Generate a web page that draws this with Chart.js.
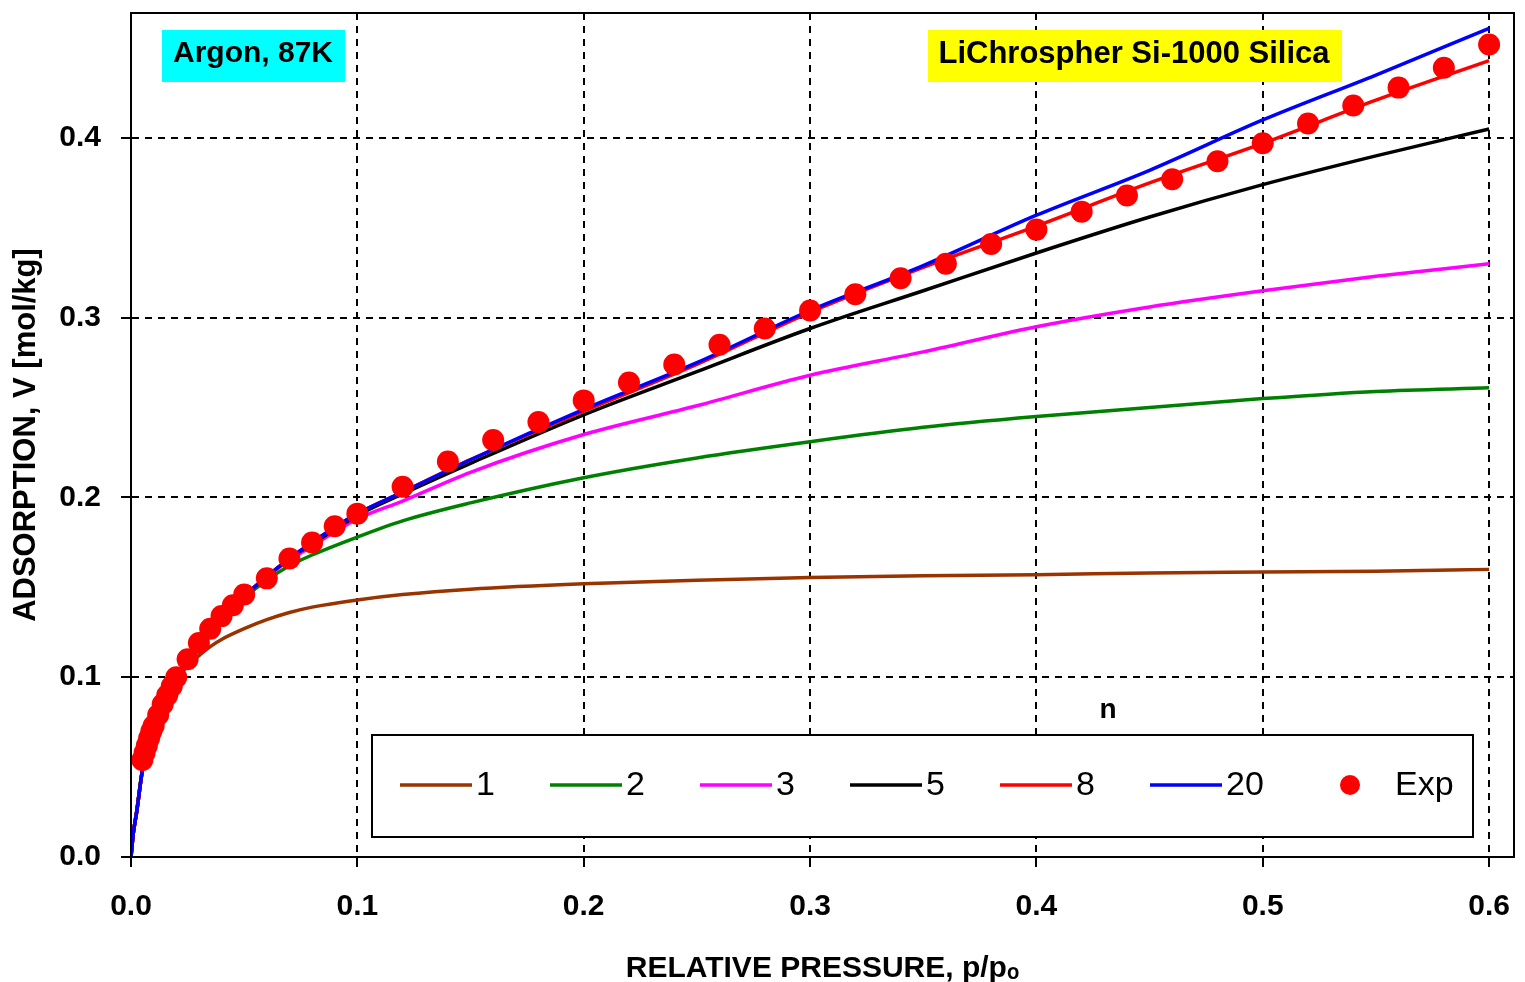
<!DOCTYPE html>
<html>
<head>
<meta charset="utf-8">
<script src="https://cdn.jsdelivr.net/npm/chart.js@4"></script>
<style>
  body { margin: 0; background: #fff; }
  #wrap { width: 1525px; height: 982px; }
</style>
</head>
<body>
<div id="wrap"><canvas id="chart" width="1525" height="982"></canvas></div>
<script>
// model curves share one x grid (relative pressure)
const curveX = [0, 0.001, 0.0025, 0.005, 0.0075, 0.01, 0.015, 0.02, 0.025, 0.03, 0.035, 0.04, 0.05, 0.06, 0.07, 0.08, 0.1, 0.12, 0.15, 0.2, 0.25, 0.3, 0.35, 0.4, 0.45, 0.5, 0.55, 0.6]
const n1  = [0, 0.013, 0.025, 0.048, 0.061, 0.072, 0.087, 0.099, 0.106, 0.112, 0.117, 0.121, 0.127, 0.132, 0.136, 0.139, 0.143, 0.146, 0.149, 0.152, 0.154, 0.1555, 0.1565, 0.157, 0.158, 0.1585, 0.159, 0.160]
const n2  = [0, 0.013, 0.025, 0.048, 0.061, 0.072, 0.087, 0.099, 0.108, 0.117, 0.125, 0.132, 0.144, 0.154, 0.162, 0.168, 0.178, 0.187, 0.197, 0.211, 0.222, 0.231, 0.239, 0.245, 0.250, 0.255, 0.259, 0.261]
const n3  = [0, 0.013, 0.025, 0.048, 0.061, 0.072, 0.087, 0.099, 0.108, 0.117, 0.125, 0.132, 0.145, 0.156, 0.165, 0.173, 0.188, 0.198, 0.214, 0.235, 0.251, 0.268, 0.281, 0.295, 0.306, 0.315, 0.323, 0.330]
const n5  = [0, 0.013, 0.025, 0.048, 0.061, 0.072, 0.087, 0.099, 0.108, 0.117, 0.125, 0.132, 0.145, 0.156, 0.166, 0.174, 0.190, 0.202, 0.219, 0.246, 0.270, 0.294, 0.315, 0.336, 0.356, 0.374, 0.390, 0.405]
const n8  = [0, 0.013, 0.025, 0.048, 0.061, 0.072, 0.087, 0.099, 0.108, 0.117, 0.125, 0.132, 0.145, 0.156, 0.166, 0.175, 0.191, 0.203, 0.221, 0.248, 0.274, 0.303, 0.328, 0.351, 0.375, 0.397, 0.421, 0.443]
const n20 = [0, 0.013, 0.025, 0.048, 0.061, 0.072, 0.087, 0.099, 0.108, 0.117, 0.125, 0.132, 0.145, 0.156, 0.166, 0.175, 0.191, 0.203, 0.221, 0.249, 0.275, 0.304, 0.329, 0.357, 0.382, 0.410, 0.435, 0.461]

// experimental points
const expX = [0.005, 0.006, 0.007, 0.008, 0.009, 0.010, 0.012, 0.014, 0.016, 0.018, 0.020, 0.025, 0.030, 0.035, 0.040, 0.045, 0.050, 0.06, 0.07, 0.08, 0.09, 0.10, 0.12, 0.14, 0.16, 0.18, 0.20, 0.22, 0.24, 0.26, 0.28, 0.30, 0.32, 0.34, 0.36, 0.38, 0.40, 0.42, 0.44, 0.46, 0.48, 0.50, 0.52, 0.54, 0.56, 0.58, 0.60]
const expY = [0.054, 0.058, 0.062, 0.066, 0.070, 0.073, 0.079, 0.085, 0.090, 0.095, 0.100, 0.110, 0.119, 0.127, 0.134, 0.140, 0.146, 0.155, 0.166, 0.175, 0.184, 0.191, 0.206, 0.220, 0.232, 0.242, 0.254, 0.264, 0.274, 0.285, 0.294, 0.304, 0.313, 0.322, 0.330, 0.341, 0.349, 0.359, 0.368, 0.377, 0.387, 0.397, 0.408, 0.418, 0.428, 0.439, 0.452]

const seriesLabels = ["1", "2", "3", "5", "8", "20"]
const seriesColors = ["#993300", "#008000", "#ff00ff", "#000000", "#ff0000", "#0000ff"]
const seriesValues = [n1, n2, n3, n5, n8, n20]

const xTicks = [0, 0.1, 0.2, 0.3, 0.4, 0.5, 0.6]
const yTicks = [0, 0.1, 0.2, 0.3, 0.4]

const pts = (xs, ys) => xs.map((x, i) => ({ x: x, y: ys[i] }))

const datasets = seriesValues.map((vals, i) => ({
    label: seriesLabels[i],
    data: pts(curveX, vals),
    showLine: true,
    borderColor: seriesColors[i],
    backgroundColor: seriesColors[i],
    borderWidth: 3.5,
    pointRadius: 0,
    pointHoverRadius: 0,
    cubicInterpolationMode: "monotone",
    order: 10 - i
}))
datasets.push({
    label: "Exp",
    data: pts(expX, expY),
    showLine: false,
    pointRadius: 11,
    pointHoverRadius: 11,
    pointBackgroundColor: "#ff0000",
    pointBorderWidth: 0,
    backgroundColor: "#ff0000",
    order: 0
})

const boxesAndLegend = {
    id: "boxesAndLegend",
    afterDraw(chart) {
        const ctx = chart.ctx
        const a = chart.chartArea
        ctx.save()
        // frame around plot
        ctx.strokeStyle = "#000"
        ctx.lineWidth = 2
        ctx.strokeRect(a.left, a.top, a.right - a.left, a.bottom - a.top)

        // label boxes
        ctx.font = "bold 30px 'Liberation Sans'"
        ctx.textBaseline = "middle"
        ctx.fillStyle = "#00ffff"
        ctx.fillRect(162, 30, 183, 52)
        ctx.fillStyle = "#000"
        ctx.textAlign = "center"
        ctx.fillText("Argon, 87K", 253, 54)
        ctx.fillStyle = "#ffff00"
        ctx.fillRect(928, 30, 414, 52)
        ctx.fillStyle = "#000"
        ctx.font = "bold 31px 'Liberation Sans'"
        ctx.fillText("LiChrospher Si-1000 Silica", 1134, 54)

        // legend
        ctx.fillStyle = "#fff"
        ctx.fillRect(372, 735, 1101, 102)
        ctx.strokeRect(372, 735, 1101, 102)
        ctx.fillStyle = "#000"
        ctx.font = "bold 28px 'Liberation Sans'"
        ctx.fillText("n", 1108, 710)
        ctx.font = "34px 'Liberation Sans'"
        ctx.textAlign = "left"
        const ly = 785
        chart.data.datasets.forEach((ds, i) => {
            const x0 = 400 + i * 150
            if (ds.showLine === false) {
                ctx.fillStyle = ds.pointBackgroundColor
                ctx.beginPath()
                ctx.arc(1350, ly, 10, 0, Math.PI * 2)
                ctx.fill()
                ctx.fillStyle = "#000"
                ctx.fillText(ds.label, 1395, ly + 1)
                return
            }
            ctx.strokeStyle = ds.borderColor
            ctx.lineWidth = 3.5
            ctx.beginPath()
            ctx.moveTo(x0, ly)
            ctx.lineTo(x0 + 72, ly)
            ctx.stroke()
            ctx.fillStyle = "#000"
            ctx.fillText(ds.label, x0 + 76, ly + 1)
        })
        ctx.restore()
    }
}

const gridOpts = {
    color: "#000",
    lineWidth: 2,
    tickBorderDash: [],
    tickLength: 10,
    tickWidth: 2,
    tickColor: "#000"
}
const borderOpts = { display: true, color: "#000", width: 2, dash: [7, 6] }

new Chart(document.getElementById("chart"), {
    type: "scatter",
    data: { datasets: datasets },
    options: {
        responsive: false,
        animation: false,
        devicePixelRatio: 1,
        layout: { padding: { top: 13, right: 10, left: 0, bottom: 0 } },
        plugins: { legend: { display: false }, tooltip: { enabled: false } },
        scales: {
            x: {
                type: "linear",
                min: 0,
                max: 0.611,
                afterFit: s => { s.height = 125; s.paddingLeft = 0; s.paddingRight = 0 },
                afterBuildTicks: s => { s.ticks = xTicks.map(v => ({ value: v })) },
                grid: gridOpts,
                border: borderOpts,
                ticks: {
                    color: "#000",
                    padding: 22,
                    font: { family: "'Liberation Sans'", size: 30, weight: "bold" },
                    callback: v => v.toFixed(1)
                },
                title: {
                    display: true,
                    text: "RELATIVE PRESSURE, p/p\u2092",
                    color: "#000",
                    padding: { top: 0, bottom: -5 },
                    font: { family: "'Liberation Sans'", size: 30, weight: "bold" }
                }
            },
            y: {
                type: "linear",
                min: 0,
                max: 0.4695,
                afterFit: s => { s.width = 131; s.paddingTop = 0; s.paddingBottom = 0 },
                afterBuildTicks: s => { s.ticks = yTicks.map(v => ({ value: v })) },
                grid: gridOpts,
                border: borderOpts,
                ticks: {
                    color: "#000",
                    padding: 20,
                    font: { family: "'Liberation Sans'", size: 30, weight: "bold" },
                    callback: v => v.toFixed(1)
                },
                title: {
                    display: true,
                    text: "ADSORPTION, V [mol/kg]",
                    color: "#000",
                    padding: { top: 8, bottom: 0 },
                    font: { family: "'Liberation Sans'", size: 31, weight: "bold" }
                }
            }
        }
    },
    plugins: [boxesAndLegend]
})
</script>
</body>
</html>
